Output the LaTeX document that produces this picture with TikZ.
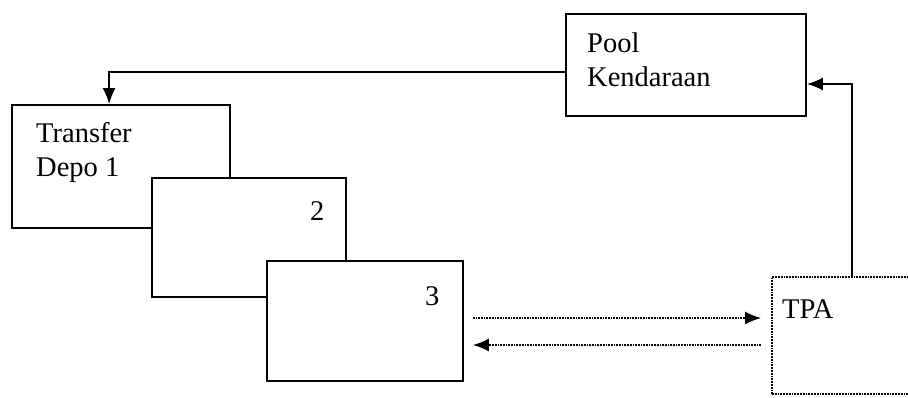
\documentclass[tikz,border=0pt]{standalone}
\usepackage{fontspec}
\setmainfont{Liberation Serif}
\usetikzlibrary{arrows.meta,calc}
\begin{document}
\begin{tikzpicture}[x=1pt,y=1pt,
  box/.style={draw=black,line width=1.8pt,fill=white,inner sep=0pt,minimum width=#1},
  lbl/.style={inner sep=0pt,anchor=base west,align=left,font=\fontsize{28.5}{34}\selectfont},
  conn/.style={line width=1.7pt,-{Latex[length=16pt,width=13pt]}},
  dconn/.style={line width=1.7pt,densely dotted,-{Latex[length=16pt,width=13pt]}}]
\useasboundingbox (0,0) rectangle (908,397);
% y coordinate = 397 - pixel row
\node[box=218pt,minimum height=123pt] (b1) at (121,230.5) {};
\node[box=194pt,minimum height=119pt] (b2) at (249,159.5) {};
\node[box=196pt,minimum height=120pt] (b3) at (365,76) {};
\node[box=240pt,minimum height=102pt] (pool) at (686,332) {};
\node[draw=black,line width=1.8pt,densely dotted,fill=white,inner sep=0pt,minimum width=140pt,minimum height=117pt] (tpa) at (842,61.5) {};
\node[lbl] (t1) at (36,220) {Transfer\\Depo 1};
\node[lbl] (t2) at (310,177) {2};
\node[lbl] (t3) at (425,92) {3};
\node[lbl] (tp) at (587,310) {Pool\\Kendaraan};
\node[lbl] (tt) at (782,79) {TPA};
\draw[conn] ($(pool.west)+(0,-7)$) -| ($(b1.north west)+(98,0)$);
\draw[conn] ($(tpa.north west)+(81,0)$) |- ($(pool.east)+(0,-19)$);
\coordinate (r1) at ($(b3.east)+(9,3)$);
\coordinate (r2) at ($(b3.east)+(9,-24)$);
\draw[dconn] (r1) -- ($(r1 -| tpa.west)+(-10,0)$);
\draw[dconn] ($(r2 -| tpa.west)+(-10,0)$) -- (r2);
\end{tikzpicture}
\end{document}
